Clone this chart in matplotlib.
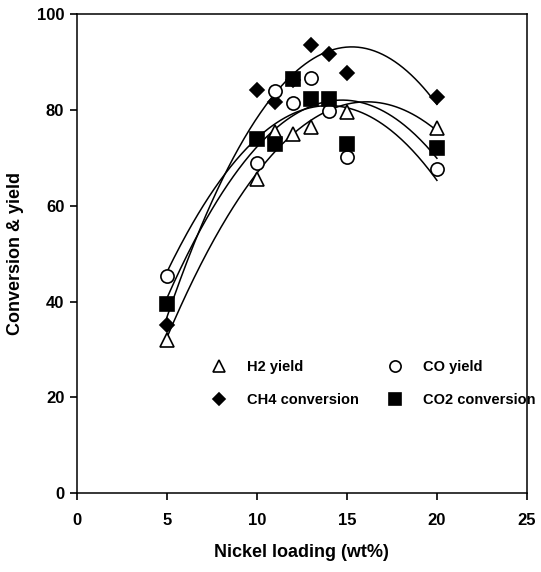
import numpy as np
import matplotlib
matplotlib.use("Agg")
import matplotlib.pyplot as plt

plt.rcParams["font.family"] = "Liberation Sans"
plt.rcParams["font.weight"] = "bold"

# nickel loading (wt%) for each catalyst
loading = [5, 10, 11, 12, 13, 14, 15, 20]

h2_yield = [32, 65.5, 75.5, 75, 76.5, None, 79.5, 76.3]
co_yield = [45.3, 69, 84, 81.4, 86.6, 79.8, 70.1, 67.6]
ch4_conv = [35.1, 84.2, 81.6, 86.2, 93.5, 91.8, 87.8, 82.8]
co2_conv = [39.5, 73.9, 72.9, 86.5, 82.3, 82.3, 73.0, 72.0]

series = [
    ("H2 yield", h2_yield, "^", "white"),
    ("CH4 conversion", ch4_conv, "D", "black"),
    ("CO yield", co_yield, "o", "white"),
    ("CO2 conversion", co2_conv, "s", "black"),
]

fig = plt.figure(figsize=(5.41, 5.72), dpi=100)
ax = fig.add_axes([0.142, 0.138, 0.832, 0.837])

xs = np.linspace(5, 20, 200)
handles = []
for label, vals, mk, fc in series:
    x = np.array([l for l, v in zip(loading, vals) if v is not None], dtype=float)
    y = np.array([v for v in vals if v is not None], dtype=float)
    # second order trend line through the points
    coef = np.polyfit(x, y, 2)
    ax.plot(xs, np.polyval(coef, xs), color="black", lw=1.1, zorder=2)
    ms = 7.5 if mk == "D" else 9.5
    h, = ax.plot(x, y, linestyle="none", marker=mk, markersize=ms,
                 markerfacecolor=fc, markeredgecolor="black", markeredgewidth=1.2,
                 label=label, zorder=3)
    handles.append(h)

ax.set_xlim(0, 25)
ax.set_ylim(0, 100)
ax.set_xticks([0, 5, 10, 15, 20, 25])
ax.set_yticks([0, 20, 40, 60, 80, 100])
ax.tick_params(direction="out", length=5, width=1.2, labelsize=12)
ax.tick_params(axis="x", pad=9)
ax.tick_params(axis="y", pad=4)
for s in ax.spines.values():
    s.set_linewidth(1.1)

ax.set_xlabel("Nickel loading (wt%)", fontsize=13, fontweight="bold", labelpad=12)
ax.set_ylabel("Conversion & yield", fontsize=13, fontweight="bold", labelpad=9)

ax.legend(handles=handles, ncol=2, frameon=False, loc="upper left",
          bbox_to_anchor=(0.255, 0.305), fontsize=10.5, handletextpad=0.9,
          columnspacing=1.5, labelspacing=1.3, markerscale=0.85)

fig.savefig("out.png", dpi=100)
